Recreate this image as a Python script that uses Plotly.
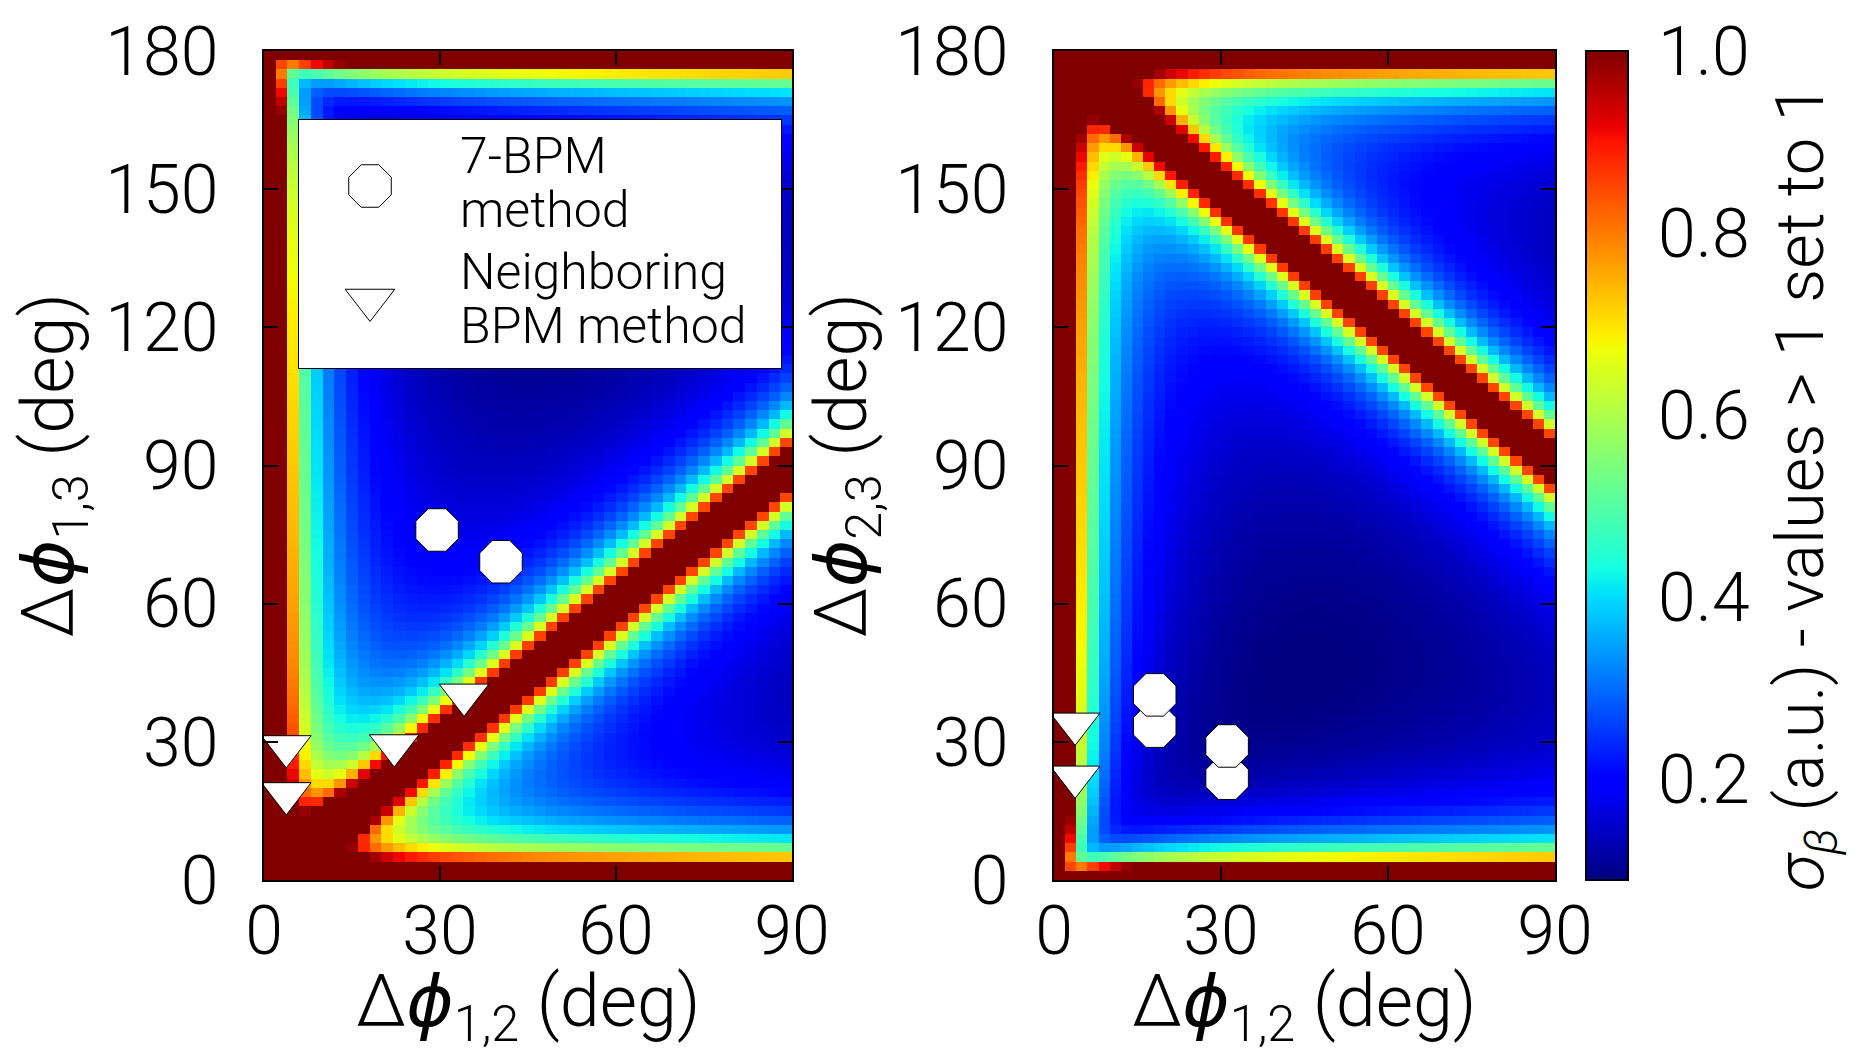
import numpy as np
import plotly.graph_objects as go

# ---------------- data ----------------
# phase-advance grid (cell centres, degrees)
phi12_deg = np.arange(1, 90, 2)      # Δφ1,2 : 45 cells, 0..90
phiy_deg = np.arange(1, 180, 2)      # Δφ1,3 (left) / Δφ2,3 (right): 90 cells, 0..180
sigma_scale = 0.0629                 # σβ scale (a.u.) of the phase-error propagation model
sigma_cap = 1.0                      # values > 1 set to 1

# 7-BPM method markers
bpm7_left_x = [29.5, 40.4]
bpm7_left_y = [76.0, 69.1]
bpm7_right_x = [18.1, 18.1, 31.1, 31.1]
bpm7_right_y = [33.4, 40.2, 22.1, 29.1]
# Neighboring BPM method markers
nb_left_x = [3.8, 3.8, 22.2, 34.1]
nb_left_y = [29.0, 18.8, 29.2, 40.2]
nb_right_x = [3.8, 3.8]
nb_right_y = [33.9, 22.4]

x_ticks = [0, 30, 60, 90]
y_ticks = [0, 30, 60, 90, 120, 150, 180]
cb_ticks = [0.2, 0.4, 0.6, 0.8, 1.0]

# ---------------- model σβ maps ----------------
X, Y = np.meshgrid(np.radians(phi12_deg), np.radians(phiy_deg))
with np.errstate(divide="ignore", invalid="ignore"):
    s12 = np.abs(np.sin(X))
    s13 = np.abs(np.sin(Y))
    z_left = sigma_scale * np.sqrt((s13 / s12) ** 2 + (s12 / s13) ** 2) / np.abs(np.sin(Y - X))
    s23 = np.abs(np.sin(Y))
    z_right = sigma_scale * np.sqrt((s23 / s12) ** 2 + (s12 / s23) ** 2) / np.abs(np.sin(X + Y))
z_left = np.minimum(np.nan_to_num(z_left, nan=sigma_cap, posinf=sigma_cap), sigma_cap)
z_right = np.minimum(np.nan_to_num(z_right, nan=sigma_cap, posinf=sigma_cap), sigma_cap)
zmin = float(min(z_left.min(), z_right.min()))

# matplotlib "jet" colormap
jet_r = [(0, 0), (0.35, 0), (0.66, 1), (0.89, 1), (1, 0.5)]
jet_g = [(0, 0), (0.125, 0), (0.375, 1), (0.64, 1), (0.91, 0), (1, 0)]
jet_b = [(0, 0.5), (0.11, 1), (0.34, 1), (0.65, 0), (1, 0)]
stops = sorted(set([p for seg in (jet_r, jet_g, jet_b) for p, _ in seg]))


def chan(seg, t):
    return float(np.interp(t, [p for p, _ in seg], [v for _, v in seg]))


jet = [[t, "rgb(%d,%d,%d)" % (round(255 * chan(jet_r, t)), round(255 * chan(jet_g, t)),
                              round(255 * chan(jet_b, t)))] for t in stops]

# ---------------- layout geometry ----------------
W, H = 1855, 1051


def px(x):
    return x / W


def py(y):
    return 1 - y / H


FONT = "Roboto, Liberation Sans, sans-serif"
FW = 300
TICK_FS = 68
LAB_FS = 72
CB_LAB_FS = 67

dom_y = [py(880), py(51)]
dom_x1 = [px(264), px(792)]
dom_x2 = [px(1054), px(1555)]

fig = go.Figure()
fig.add_trace(go.Heatmap(x=phi12_deg, y=phiy_deg, z=z_left, coloraxis="coloraxis",
                         xaxis="x", yaxis="y", zsmooth=False, hoverinfo="skip"))
fig.add_trace(go.Heatmap(x=phi12_deg, y=phiy_deg, z=z_right, coloraxis="coloraxis",
                         xaxis="x2", yaxis="y2", zsmooth=False, hoverinfo="skip"))

oct_marker = dict(symbol="octagon", size=46, color="white", line=dict(color="black", width=1))
tri_marker = dict(symbol="triangle-down", size=43, color="white", line=dict(color="black", width=1))

fig.add_trace(go.Scatter(x=bpm7_left_x, y=bpm7_left_y, mode="markers", marker=oct_marker,
                         xaxis="x", yaxis="y", showlegend=False))
fig.add_trace(go.Scatter(x=nb_left_x, y=nb_left_y, mode="markers", marker=tri_marker,
                         xaxis="x", yaxis="y", showlegend=False))
fig.add_trace(go.Scatter(x=bpm7_right_x, y=bpm7_right_y, mode="markers", marker=oct_marker,
                         xaxis="x2", yaxis="y2", showlegend=False))
fig.add_trace(go.Scatter(x=nb_right_x, y=nb_right_y, mode="markers", marker=tri_marker,
                         xaxis="x2", yaxis="y2", showlegend=False))

# custom legend (glyphs in a small helper subplot)
leg_x0, leg_x1, leg_y0, leg_y1 = 298, 782, 119, 369
fig.add_trace(go.Scatter(x=[(370 - leg_x0) / (leg_x1 - leg_x0)], y=[(leg_y1 - 186) / (leg_y1 - leg_y0)],
                         mode="markers", marker=oct_marker, xaxis="x3", yaxis="y3", showlegend=False))
fig.add_trace(go.Scatter(x=[(370 - leg_x0) / (leg_x1 - leg_x0)], y=[(leg_y1 - 300) / (leg_y1 - leg_y0)],
                         mode="markers", marker=tri_marker, xaxis="x3", yaxis="y3", showlegend=False))

tick_font = dict(family=FONT, size=TICK_FS, color="black", weight=FW)
axis_common = dict(showline=True, linecolor="black", linewidth=2, mirror="ticks",
                   ticks="inside", ticklen=14, tickwidth=1.5, tickcolor="black",
                   showgrid=False, zeroline=False, automargin=False, tickfont=tick_font)

fig.update_layout(
    width=W, height=H, margin=dict(l=0, r=0, t=0, b=0, autoexpand=False),
    paper_bgcolor="white", plot_bgcolor="white", showlegend=False,
    font=dict(family=FONT, color="black", weight=FW),
    xaxis=dict(domain=dom_x1, range=[0, 90], tickvals=x_ticks, anchor="y",
               ticklabelstandoff=-10, **axis_common),
    yaxis=dict(domain=dom_y, range=[0, 180], tickvals=y_ticks, anchor="x",
               ticklabelstandoff=30, **axis_common),
    xaxis2=dict(domain=dom_x2, range=[0, 90], tickvals=x_ticks, anchor="y2",
                ticklabelstandoff=-10, **axis_common),
    yaxis2=dict(domain=dom_y, range=[0, 180], tickvals=y_ticks, anchor="x2",
                ticklabelstandoff=30, **axis_common),
    xaxis3=dict(domain=[px(leg_x0), px(leg_x1)], range=[0, 1], anchor="y3", visible=False,
                fixedrange=True, automargin=False),
    yaxis3=dict(domain=[py(leg_y1), py(leg_y0)], range=[0, 1], anchor="x3", visible=False,
                fixedrange=True, automargin=False),
    coloraxis=dict(
        colorscale=jet, cmin=zmin, cmax=sigma_cap,
        colorbar=dict(
            x=px(1586), xanchor="left", xpad=0, y=py(880), yanchor="bottom", ypad=0,
            len=(880 - 51) / H, lenmode="fraction", thickness=42, thicknessmode="pixels",
            outlinewidth=2, outlinecolor="black",
            tickvals=cb_ticks, ticktext=["%.1f" % v for v in cb_ticks],
            ticks="outside", ticklen=16, tickcolor="rgba(0,0,0,0)",
            tickfont=tick_font,
        ),
    ),
    shapes=[dict(type="rect", xref="x3", yref="y3", x0=0, x1=1, y0=0, y1=1,
                 fillcolor="white", line=dict(color="black", width=2), layer="below")],
)

PHI = "<span style=\"font-family:'DejaVu Sans';font-weight:200\"><i>ϕ</i></span>"
ann_font = dict(family=FONT, size=LAB_FS, color="black", weight=FW)
cb_font = dict(family=FONT, size=CB_LAB_FS, color="black", weight=FW)
leg_font = dict(family=FONT, size=50, color="black", weight=FW)
annotations = [
    dict(text="Δ" + PHI + "<sub>1,2</sub> (deg)", x=(px(264) + px(792)) / 2, y=py(1006),
         xref="paper", yref="paper", showarrow=False, font=ann_font, xanchor="center", yanchor="middle"),
    dict(text="Δ" + PHI + "<sub>1,2</sub> (deg)", x=(px(1054) + px(1555)) / 2, y=py(1006),
         xref="paper", yref="paper", showarrow=False, font=ann_font, xanchor="center", yanchor="middle"),
    dict(text="Δ" + PHI + "<sub>1,3</sub> (deg)", x=px(52), y=(dom_y[0] + dom_y[1]) / 2, textangle=-90,
         xref="paper", yref="paper", showarrow=False, font=ann_font, xanchor="center", yanchor="middle"),
    dict(text="Δ" + PHI + "<sub>2,3</sub> (deg)", x=px(845), y=(dom_y[0] + dom_y[1]) / 2, textangle=-90,
         xref="paper", yref="paper", showarrow=False, font=ann_font, xanchor="center", yanchor="middle"),
    dict(text="<i>σ</i><sub><i>β</i></sub> (a.u.) - values > 1 set to 1", x=px(1804), y=py(488),
         textangle=-90, xref="paper", yref="paper", showarrow=False, font=cb_font,
         xanchor="center", yanchor="middle"),
]
for txt, yc in [("7-BPM", 156), ("method", 210), ("Neighboring", 272), ("BPM method", 326)]:
    annotations.append(dict(text=txt, x=px(458), y=py(yc), xref="paper", yref="paper",
                            showarrow=False, font=leg_font, xanchor="left", yanchor="middle"))
fig.update_layout(annotations=annotations)

fig.write_html("out.html")
